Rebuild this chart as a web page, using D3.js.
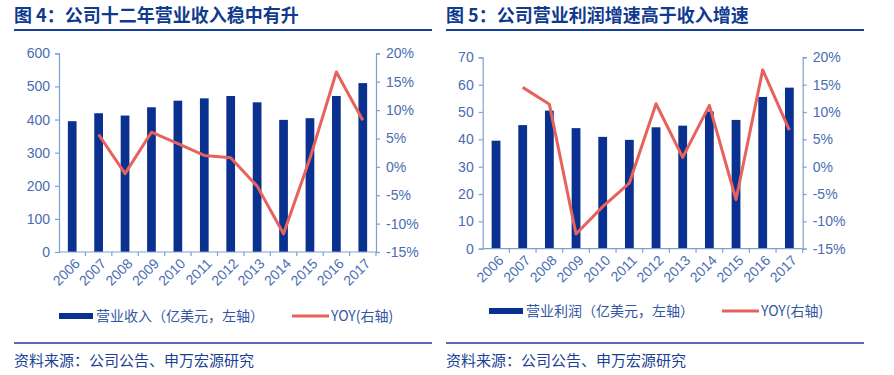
<!DOCTYPE html>
<html>
<head>
<meta charset="utf-8">
<script src="https://cdn.jsdelivr.net/npm/d3@7"></script>
<style>
  body { margin: 0; background: #fff; }
  svg { display: block; }
  .tick text { font-family: "Liberation Sans", Arial, sans-serif; }
</style>
</head>
<body>
<svg id="chart" width="894" height="375"></svg>
<script>
// data
const years = ["2006", "2007", "2008", "2009", "2010", "2011", "2012", "2013", "2014", "2015", "2016", "2017"];

const revenue = [395, 419, 412, 437, 457, 464, 471, 452, 399, 404, 471, 510];
const revenueYoy = [null, 5.7, -1.2, 6.1, 4.1, 2.0, 1.6, -3.4, -11.8, 1.5, 16.7, 8.2];

const profit = [39.5, 45.2, 50.5, 44.1, 40.9, 39.8, 44.4, 45.0, 50.2, 47.1, 55.5, 58.9];
const profitYoy = [null, 14.5, 11.4, -12.3, -7.3, -3.0, 11.5, 1.7, 11.2, -6.0, 17.7, 6.7];

const revenueTicks = [0, 100, 200, 300, 400, 500, 600];
const profitTicks = [0, 10, 20, 30, 40, 50, 60, 70];
const yoyTicks = [-15, -10, -5, 0, 5, 10, 15, 20];

const titles = ["图 4：公司十二年营业收入稳中有升", "图 5：公司营业利润增速高于收入增速"];
const barLabels = ["营业收入（亿美元，左轴）", "营业利润（亿美元，左轴）"];
const lineLabel = "YOY(右轴)";
const source = "资料来源：公司公告、申万宏源研究";

const NAVY = "#0a3190";
const RED = "#e8625c";
const AXIS = "#7f9fd3";
const TICKTXT = "#4a6cb3";
const CJK = "'Noto Sans CJK SC', sans-serif";

const svg = d3.select("#chart");

function drawPanel(opt) {
    const g = svg.append("g");

    // title + rule
    g.append("text")
        .attr("x", opt.x0).attr("y", 22)
        .attr("font-family", CJK).attr("font-weight", "bold")
        .attr("font-size", 18).attr("fill", "#0f3a8e")
        .text(opt.title);
    g.append("line")
        .attr("x1", opt.x0).attr("x2", opt.x0 + 418)
        .attr("y1", 30).attr("y2", 30)
        .attr("stroke", "#173e98").attr("stroke-width", 2);

    const x = d3.scaleBand().domain(years).range([opt.left, opt.right]).paddingInner(0.67).paddingOuter(0.335);
    const xb = d3.scaleBand().domain(years).range([opt.left, opt.right]);
    const y = d3.scaleLinear().domain([0, d3.max(opt.ticks)]).range([opt.bottom, opt.top]);
    const y2 = d3.scaleLinear().domain([-15, 20]).range([opt.bottom, opt.top]);

    // bars
    g.append("g").selectAll("rect")
        .data(opt.bars)
        .join("rect")
        .attr("x", (d, i) => x(years[i]))
        .attr("width", x.bandwidth())
        .attr("y", d => y(d))
        .attr("height", d => opt.bottom - y(d))
        .attr("fill", NAVY);

    // axes
    const styleAxis = sel => {
        sel.selectAll(".domain").attr("stroke", AXIS).attr("stroke-width", 1.2);
        sel.selectAll(".tick line").attr("stroke", AXIS).attr("stroke-width", 1.2);
        sel.selectAll(".tick text").attr("fill", TICKTXT).attr("font-size", 14);
    };

    g.append("g")
        .attr("transform", `translate(${opt.left},0)`)
        .call(d3.axisLeft(y).tickValues(opt.ticks).tickSize(4).tickPadding(5).tickSizeOuter(4))
        .call(styleAxis);

    g.append("g")
        .attr("transform", `translate(${opt.right},0)`)
        .call(d3.axisRight(y2).tickValues(yoyTicks).tickFormat(d => d + "%").tickSize(4).tickPadding(6).tickSizeOuter(4))
        .call(styleAxis);

    // x axis with ticks on category boundaries
    const xg = g.append("g").attr("transform", `translate(0,${opt.bottom})`);
    xg.append("line")
        .attr("x1", opt.left).attr("x2", opt.right)
        .attr("stroke", AXIS).attr("stroke-width", 1.2);
    xg.selectAll("line.b")
        .data(years)
        .join("line").attr("class", "b")
        .attr("x1", d => xb(d) + xb.bandwidth())
        .attr("x2", d => xb(d) + xb.bandwidth())
        .attr("y1", 0).attr("y2", 4)
        .attr("stroke", AXIS).attr("stroke-width", 1.2);
    xg.selectAll("text")
        .data(years)
        .join("text")
        .attr("transform", d => `translate(${xb(d) + xb.bandwidth() / 2 + 5},${9}) rotate(-45)`)
        .attr("text-anchor", "end")
        .attr("dy", "0.35em")
        .attr("font-family", "'Liberation Sans', Arial, sans-serif")
        .attr("font-size", 14)
        .attr("fill", TICKTXT)
        .text(d => d);

    // yoy line
    const line = d3.line()
        .defined(d => d != null)
        .x((d, i) => xb(years[i]) + xb.bandwidth() / 2)
        .y(d => y2(d));
    g.append("path")
        .datum(opt.yoy)
        .attr("d", line)
        .attr("fill", "none")
        .attr("stroke", RED)
        .attr("stroke-width", 3)
        .attr("stroke-linejoin", "round");

    // legend
    const lg = g.append("g").attr("transform", `translate(0,${opt.legendY})`);
    lg.append("rect")
        .attr("x", opt.legX).attr("y", -3).attr("width", 34).attr("height", 6)
        .attr("fill", NAVY);
    lg.append("text")
        .attr("x", opt.legX + 37).attr("y", 0).attr("dy", "0.35em")
        .attr("font-family", CJK).attr("font-size", 14).attr("fill", "#3456a3")
        .text(opt.barLabel);
    lg.append("line")
        .attr("x1", opt.legX + 233).attr("x2", opt.legX + 270)
        .attr("stroke", RED).attr("stroke-width", 3);
    lg.append("text")
        .attr("x", opt.legX + 272).attr("y", 0).attr("dy", "0.35em")
        .attr("font-family", CJK).attr("font-size", 14).attr("fill", "#3456a3")
        .text(lineLabel);

    // source
    g.append("line")
        .attr("x1", opt.x0).attr("x2", opt.x0 + 418)
        .attr("y1", 343).attr("y2", 343)
        .attr("stroke", "#173e98").attr("stroke-width", 1.5);
    g.append("text")
        .attr("x", opt.x0).attr("y", 361).attr("dy", "0.35em")
        .attr("font-family", CJK).attr("font-size", 15).attr("fill", "#1b3f94")
        .text(source);
}

drawPanel({
    x0: 14, title: titles[0], left: 59, right: 376, top: 53.3, bottom: 252,
    bars: revenue, ticks: revenueTicks, yoy: revenueYoy,
    barLabel: barLabels[0], legX: 59, legendY: 316
});

drawPanel({
    x0: 446, title: titles[1], left: 482.7, right: 802.7, top: 57.3, bottom: 248.7,
    bars: profit, ticks: profitTicks, yoy: profitYoy,
    barLabel: barLabels[1], legX: 489, legendY: 311
});
</script>
</body>
</html>
